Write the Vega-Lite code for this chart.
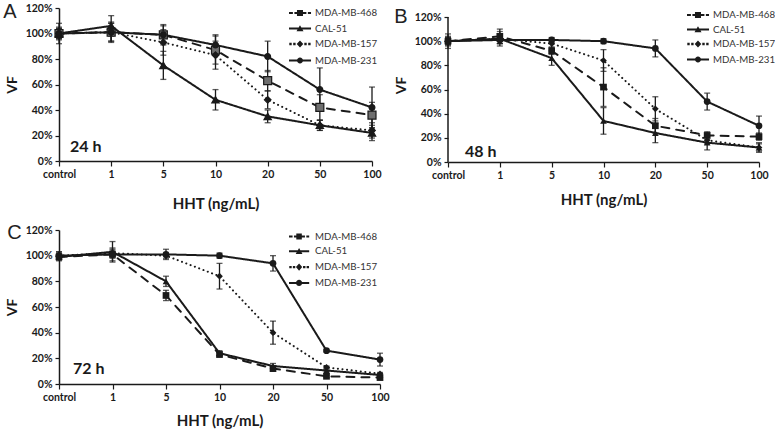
{
  "$schema": "https://vega.github.io/schema/vega-lite/v6.json",
  "background": "white",
  "padding": {"left": 3, "top": 2, "right": 0, "bottom": 0},
  "datasets": {
    "pts": [
      {"p": "A", "s": "MDA-MB-468", "d": "control", "v": 100, "e": 4},
      {"p": "A", "s": "MDA-MB-468", "d": "1", "v": 101, "e": 8},
      {"p": "A", "s": "MDA-MB-468", "d": "5", "v": 99, "e": 8},
      {"p": "A", "s": "MDA-MB-468", "d": "10", "v": 87, "e": 11},
      {"p": "A", "s": "MDA-MB-468", "d": "20", "v": 63, "e": 8},
      {"p": "A", "s": "MDA-MB-468", "d": "50", "v": 42, "e": 10},
      {"p": "A", "s": "MDA-MB-468", "d": "100", "v": 36, "e": 10},
      {"p": "A", "s": "CAL-51", "d": "control", "v": 100, "e": 4},
      {"p": "A", "s": "CAL-51", "d": "1", "v": 106, "e": 8},
      {"p": "A", "s": "CAL-51", "d": "5", "v": 75, "e": 11},
      {"p": "A", "s": "CAL-51", "d": "10", "v": 48, "e": 8},
      {"p": "A", "s": "CAL-51", "d": "20", "v": 35, "e": 5},
      {"p": "A", "s": "CAL-51", "d": "50", "v": 28, "e": 4},
      {"p": "A", "s": "CAL-51", "d": "100", "v": 22, "e": 6},
      {"p": "A", "s": "MDA-MB-157", "d": "control", "v": 100, "e": 5},
      {"p": "A", "s": "MDA-MB-157", "d": "1", "v": 101, "e": 7},
      {"p": "A", "s": "MDA-MB-157", "d": "5", "v": 93, "e": 10},
      {"p": "A", "s": "MDA-MB-157", "d": "10", "v": 83, "e": 11},
      {"p": "A", "s": "MDA-MB-157", "d": "20", "v": 48, "e": 7},
      {"p": "A", "s": "MDA-MB-157", "d": "50", "v": 28, "e": 4},
      {"p": "A", "s": "MDA-MB-157", "d": "100", "v": 24, "e": 6},
      {"p": "A", "s": "MDA-MB-231", "d": "control", "v": 100, "e": 8},
      {"p": "A", "s": "MDA-MB-231", "d": "1", "v": 101, "e": 7},
      {"p": "A", "s": "MDA-MB-231", "d": "5", "v": 99, "e": 7},
      {"p": "A", "s": "MDA-MB-231", "d": "10", "v": 91, "e": 8},
      {"p": "A", "s": "MDA-MB-231", "d": "20", "v": 82, "e": 12},
      {"p": "A", "s": "MDA-MB-231", "d": "50", "v": 56, "e": 17},
      {"p": "A", "s": "MDA-MB-231", "d": "100", "v": 42, "e": 16},
      {"p": "B", "s": "MDA-MB-468", "d": "control", "v": 100, "e": 3},
      {"p": "B", "s": "MDA-MB-468", "d": "1", "v": 104, "e": 6},
      {"p": "B", "s": "MDA-MB-468", "d": "5", "v": 92, "e": 3},
      {"p": "B", "s": "MDA-MB-468", "d": "10", "v": 62, "e": 16},
      {"p": "B", "s": "MDA-MB-468", "d": "20", "v": 30, "e": 6},
      {"p": "B", "s": "MDA-MB-468", "d": "50", "v": 22, "e": 3},
      {"p": "B", "s": "MDA-MB-468", "d": "100", "v": 21, "e": 3},
      {"p": "B", "s": "CAL-51", "d": "control", "v": 100, "e": 3},
      {"p": "B", "s": "CAL-51", "d": "1", "v": 102, "e": 6},
      {"p": "B", "s": "CAL-51", "d": "5", "v": 86, "e": 6},
      {"p": "B", "s": "CAL-51", "d": "10", "v": 34, "e": 11},
      {"p": "B", "s": "CAL-51", "d": "20", "v": 24, "e": 8},
      {"p": "B", "s": "CAL-51", "d": "50", "v": 16, "e": 6},
      {"p": "B", "s": "CAL-51", "d": "100", "v": 12, "e": 3},
      {"p": "B", "s": "MDA-MB-157", "d": "control", "v": 100, "e": 4},
      {"p": "B", "s": "MDA-MB-157", "d": "1", "v": 102, "e": 4},
      {"p": "B", "s": "MDA-MB-157", "d": "5", "v": 98, "e": 3},
      {"p": "B", "s": "MDA-MB-157", "d": "10", "v": 84, "e": 9},
      {"p": "B", "s": "MDA-MB-157", "d": "20", "v": 44, "e": 10},
      {"p": "B", "s": "MDA-MB-157", "d": "50", "v": 18, "e": 3},
      {"p": "B", "s": "MDA-MB-157", "d": "100", "v": 12, "e": 4},
      {"p": "B", "s": "MDA-MB-231", "d": "control", "v": 100, "e": 6},
      {"p": "B", "s": "MDA-MB-231", "d": "1", "v": 101, "e": 3},
      {"p": "B", "s": "MDA-MB-231", "d": "5", "v": 101, "e": 2},
      {"p": "B", "s": "MDA-MB-231", "d": "10", "v": 100, "e": 2},
      {"p": "B", "s": "MDA-MB-231", "d": "20", "v": 94, "e": 7},
      {"p": "B", "s": "MDA-MB-231", "d": "50", "v": 50, "e": 7},
      {"p": "B", "s": "MDA-MB-231", "d": "100", "v": 30, "e": 8},
      {"p": "C", "s": "MDA-MB-468", "d": "control", "v": 99, "e": 3},
      {"p": "C", "s": "MDA-MB-468", "d": "1", "v": 101, "e": 5},
      {"p": "C", "s": "MDA-MB-468", "d": "5", "v": 69, "e": 4},
      {"p": "C", "s": "MDA-MB-468", "d": "10", "v": 23, "e": 2},
      {"p": "C", "s": "MDA-MB-468", "d": "20", "v": 12, "e": 2},
      {"p": "C", "s": "MDA-MB-468", "d": "50", "v": 6, "e": 1},
      {"p": "C", "s": "MDA-MB-468", "d": "100", "v": 5, "e": 1},
      {"p": "C", "s": "CAL-51", "d": "control", "v": 99, "e": 2},
      {"p": "C", "s": "CAL-51", "d": "1", "v": 103, "e": 8},
      {"p": "C", "s": "CAL-51", "d": "5", "v": 80, "e": 4},
      {"p": "C", "s": "CAL-51", "d": "10", "v": 24, "e": 2},
      {"p": "C", "s": "CAL-51", "d": "20", "v": 14, "e": 2},
      {"p": "C", "s": "CAL-51", "d": "50", "v": 10.5, "e": 1},
      {"p": "C", "s": "CAL-51", "d": "100", "v": 7, "e": 1},
      {"p": "C", "s": "MDA-MB-157", "d": "control", "v": 100, "e": 3},
      {"p": "C", "s": "MDA-MB-157", "d": "1", "v": 102, "e": 3},
      {"p": "C", "s": "MDA-MB-157", "d": "5", "v": 100, "e": 2},
      {"p": "C", "s": "MDA-MB-157", "d": "10", "v": 84, "e": 10},
      {"p": "C", "s": "MDA-MB-157", "d": "20", "v": 40, "e": 9},
      {"p": "C", "s": "MDA-MB-157", "d": "50", "v": 13, "e": 1},
      {"p": "C", "s": "MDA-MB-157", "d": "100", "v": 8, "e": 1},
      {"p": "C", "s": "MDA-MB-231", "d": "control", "v": 100, "e": 3},
      {"p": "C", "s": "MDA-MB-231", "d": "1", "v": 101, "e": 3},
      {"p": "C", "s": "MDA-MB-231", "d": "5", "v": 101, "e": 4},
      {"p": "C", "s": "MDA-MB-231", "d": "10", "v": 100, "e": 2},
      {"p": "C", "s": "MDA-MB-231", "d": "20", "v": 94, "e": 6},
      {"p": "C", "s": "MDA-MB-231", "d": "50", "v": 26, "e": 1},
      {"p": "C", "s": "MDA-MB-231", "d": "100", "v": 19, "e": 5}
    ],
    "labels": [
      {"p": "A", "label": "24 h"},
      {"p": "B", "label": "48 h"},
      {"p": "C", "label": "72 h"}
    ]
  },
  "data": {"name": "pts"},
  "vconcat": [
    {
      "hconcat": [
        {
          "width": 313,
          "height": 153,
          "title": {"text": "A", "offset": -19, "dx": -2},
          "layer": [
            {
              "transform": [{"filter": "datum.p === 'A'"}],
              "encoding": {
                "x": {"field": "d", "type": "ordinal", "scale": {"type": "point", "domain": ["control", "1", "5", "10", "20", "50", "100"], "padding": 0}, "axis": {"title": "HHT (ng/mL)", "titlePadding": 16.5}},
                "y": {"field": "v", "type": "quantitative", "scale": {"domain": [0, 120], "nice": false}, "axis": {"title": "VF", "values": [0, 20, 40, 60, 80, 100, 120], "tickCount": 7, "labelOverlap": false, "labelSeparation": 0, "labelExpr": "datum.value + '%'"}}
              },
              "layer": [
                {"mark": {"type": "errorbar", "color": "#1a1a1a", "thickness": 1.3, "ticks": {"size": 6, "thickness": 1.3}}, "encoding": {"yError": {"field": "e"}}},
                {"mark": {"type": "line", "color": "#1a1a1a", "strokeWidth": 2, "strokeCap": "round"}, "encoding": {"strokeDash": {"field": "s", "type": "nominal", "scale": {"domain": ["MDA-MB-468", "CAL-51", "MDA-MB-157", "MDA-MB-231"], "range": [[8, 7], [1, 0], [0.1, 4.5], [1, 0]]}, "legend": null}}},
                {"mark": {"type": "point", "filled": true, "opacity": 1, "stroke": "#1a1a1a", "strokeWidth": 1.2},
                  "encoding": {
                    "shape": {"field": "s", "type": "nominal", "scale": {"domain": ["MDA-MB-468", "CAL-51", "MDA-MB-157", "MDA-MB-231"], "range": ["square", "triangle-up", "diamond", "circle"]}, "legend": null},
                    "fill": {"field": "s", "type": "nominal", "scale": {"domain": ["MDA-MB-468", "CAL-51", "MDA-MB-157", "MDA-MB-231"], "range": ["#6e6e6e", "#1a1a1a", "#1a1a1a", "#1a1a1a"]}, "legend": null},
                    "size": {"field": "s", "type": "nominal", "scale": {"domain": ["MDA-MB-468", "CAL-51", "MDA-MB-157", "MDA-MB-231"], "range": [64, 34, 34, 34]}, "legend": null}
                  }}
              ]
            },
            {
              "transform": [{"filter": "false"}],
              "mark": {"type": "point", "filled": true, "color": "#1a1a1a", "opacity": 1},
              "encoding": {"shape": {"field": "s", "type": "nominal", "scale": {"domain": ["MDA-MB-468", "CAL-51", "MDA-MB-157", "MDA-MB-231"], "range": ["M-1,-0.17H-0.35V0.17H-1ZM-0.1,-0.17H0.33V0.17H-0.1ZM1.33,-0.17H1.9V0.17H1.33ZM2.15,-0.17H2.67V0.17H2.15ZM0.33,-0.5H1.33V0.5H0.33Z", "M-1,-0.17H2.67V0.17H-1ZM0.833,-0.55L1.42,0.45H0.25Z", "M-0.95,-0.2h0.4v0.4h-0.4ZM-0.3,-0.2h0.4v0.4h-0.4ZM1.55,-0.2h0.4v0.4h-0.4ZM2.2,-0.2h0.4v0.4h-0.4ZM0.833,-0.6L1.38,0L0.833,0.6L0.283,0Z", "M-1,-0.17H2.67V0.17H-1ZM0.333,0A0.5,0.5 0 1,1 1.333,0A0.5,0.5 0 1,1 0.333,0Z"]}, "legend": {"orient": "none", "legendX": 229, "legendY": -2, "title": null, "symbolSize": 144, "labelOffset": 13, "rowPadding": 2.5}}}
            },
            {
              "data": {"name": "labels"},
              "transform": [{"filter": "datum.p === 'A'"}],
              "mark": {"type": "text", "align": "left", "baseline": "alphabetic", "dx": 11, "font": "Lato", "fontSize": 16, "fontWeight": "bold", "color": "#1a1a1a"},
              "encoding": {"x": {"datum": "control", "type": "ordinal"}, "y": {"datum": 7, "type": "quantitative"}, "text": {"field": "label"}}
            }
          ],
          "resolve": {"scale": {"shape": "independent"}}
        },
        {
          "width": 311,
          "height": 154,
          "title": {"text": "B", "offset": -19, "dx": 0},
          "layer": [
            {
              "transform": [{"filter": "datum.p === 'B'"}],
              "encoding": {
                "x": {"field": "d", "type": "ordinal", "scale": {"type": "point", "domain": ["control", "1", "5", "10", "20", "50", "100"], "padding": 0}, "axis": {"title": "HHT (ng/mL)", "titlePadding": 12}},
                "y": {"field": "v", "type": "quantitative", "scale": {"domain": [0, 127.45], "nice": false}, "axis": {"title": "VF", "domain": false, "values": [0, 20, 40, 60, 80, 100, 120], "tickCount": 7, "labelOverlap": false, "labelSeparation": 0, "labelExpr": "datum.value + '%'"}}
              },
              "layer": [
                {"mark": {"type": "errorbar", "color": "#1a1a1a", "thickness": 1.3, "ticks": {"size": 6, "thickness": 1.3}}, "encoding": {"yError": {"field": "e"}}},
                {"mark": {"type": "line", "color": "#1a1a1a", "strokeWidth": 2, "strokeCap": "round"}, "encoding": {"strokeDash": {"field": "s", "type": "nominal", "scale": {"domain": ["MDA-MB-468", "CAL-51", "MDA-MB-157", "MDA-MB-231"], "range": [[8, 7], [1, 0], [0.1, 4.5], [1, 0]]}, "legend": null}}},
                {"mark": {"type": "point", "filled": true, "color": "#1a1a1a", "opacity": 1, "size": 45}, "encoding": {"shape": {"field": "s", "type": "nominal", "scale": {"domain": ["MDA-MB-468", "CAL-51", "MDA-MB-157", "MDA-MB-231"], "range": ["square", "triangle-up", "diamond", "circle"]}, "legend": null}}}
              ]
            },
            {
              "transform": [{"filter": "false"}],
              "mark": {"type": "point", "filled": true, "color": "#1a1a1a", "opacity": 1},
              "encoding": {"shape": {"field": "s", "type": "nominal", "scale": {"domain": ["MDA-MB-468", "CAL-51", "MDA-MB-157", "MDA-MB-231"], "range": ["M-1,-0.17H-0.35V0.17H-1ZM-0.1,-0.17H0.33V0.17H-0.1ZM1.33,-0.17H1.9V0.17H1.33ZM2.15,-0.17H2.67V0.17H2.15ZM0.33,-0.5H1.33V0.5H0.33Z", "M-1,-0.17H2.67V0.17H-1ZM0.833,-0.55L1.42,0.45H0.25Z", "M-0.95,-0.2h0.4v0.4h-0.4ZM-0.3,-0.2h0.4v0.4h-0.4ZM1.55,-0.2h0.4v0.4h-0.4ZM2.2,-0.2h0.4v0.4h-0.4ZM0.833,-0.6L1.38,0L0.833,0.6L0.283,0Z", "M-1,-0.17H2.67V0.17H-1ZM0.333,0A0.5,0.5 0 1,1 1.333,0A0.5,0.5 0 1,1 0.333,0Z"]}, "legend": {"orient": "none", "legendX": 238, "legendY": 0, "title": null, "symbolSize": 144, "labelOffset": 13, "rowPadding": 1.5}}}
            },
            {
              "data": {"name": "labels"},
              "transform": [{"filter": "datum.p === 'B'"}],
              "layer": [
                {
                  "mark": {"type": "rule", "color": "#1a1a1a", "strokeWidth": 1.5},
                  "encoding": {"x": {"datum": "control", "type": "ordinal"}, "y": {"datum": 0, "type": "quantitative"}, "y2": {"datum": 120}}
                },
                {
                  "mark": {"type": "text", "align": "left", "baseline": "alphabetic", "dx": 17, "font": "Lato", "fontSize": 16, "fontWeight": "bold", "color": "#1a1a1a"},
                  "encoding": {"x": {"datum": "control", "type": "ordinal"}, "y": {"datum": 4, "type": "quantitative"}, "text": {"field": "label"}}
                }
              ]
            }
          ],
          "resolve": {"scale": {"shape": "independent"}}
        }
      ]
    },
    {
      "width": 321,
      "height": 154,
      "title": {"text": "C", "offset": -18, "dx": 2},
      "layer": [
        {
          "transform": [{"filter": "datum.p === 'C'"}],
          "encoding": {
            "x": {"field": "d", "type": "ordinal", "scale": {"type": "point", "domain": ["control", "1", "5", "10", "20", "50", "100"], "padding": 0}, "axis": {"title": "HHT (ng/mL)", "titlePadding": 11}},
            "y": {"field": "v", "type": "quantitative", "scale": {"domain": [0, 120], "nice": false}, "axis": {"title": "VF", "values": [0, 20, 40, 60, 80, 100, 120], "tickCount": 7, "labelOverlap": false, "labelSeparation": 0, "labelExpr": "datum.value + '%'"}}
          },
          "layer": [
            {"mark": {"type": "errorbar", "color": "#1a1a1a", "thickness": 1.3, "ticks": {"size": 6, "thickness": 1.3}}, "encoding": {"yError": {"field": "e"}}},
            {"mark": {"type": "line", "color": "#1a1a1a", "strokeWidth": 2, "strokeCap": "round"}, "encoding": {"strokeDash": {"field": "s", "type": "nominal", "scale": {"domain": ["MDA-MB-468", "CAL-51", "MDA-MB-157", "MDA-MB-231"], "range": [[8, 7], [1, 0], [0.1, 4.5], [1, 0]]}, "legend": null}}},
            {"mark": {"type": "point", "filled": true, "color": "#1a1a1a", "opacity": 1, "size": 45}, "encoding": {"shape": {"field": "s", "type": "nominal", "scale": {"domain": ["MDA-MB-468", "CAL-51", "MDA-MB-157", "MDA-MB-231"], "range": ["square", "triangle-up", "diamond", "circle"]}, "legend": null}}}
          ]
        },
        {
          "transform": [{"filter": "false"}],
          "mark": {"type": "point", "filled": true, "color": "#1a1a1a", "opacity": 1},
          "encoding": {"shape": {"field": "s", "type": "nominal", "scale": {"domain": ["MDA-MB-468", "CAL-51", "MDA-MB-157", "MDA-MB-231"], "range": ["M-1,-0.18H-0.35V0.18H-1ZM-0.1,-0.18H0.33V0.18H-0.1ZM1.33,-0.18H1.9V0.18H1.33ZM2.15,-0.18H2.67V0.18H2.15ZM0.33,-0.55H1.33V0.55H0.33Z", "M-1,-0.18H2.67V0.18H-1ZM0.833,-0.6L1.45,0.5H0.22Z", "M-0.95,-0.22h0.44v0.44h-0.44ZM-0.3,-0.22h0.44v0.44h-0.44ZM1.55,-0.22h0.44v0.44h-0.44ZM2.2,-0.22h0.44v0.44h-0.44ZM0.833,-0.65L1.4,0L0.833,0.65L0.263,0Z", "M-1,-0.18H2.67V0.18H-1ZM0.283,0A0.55,0.55 0 1,1 1.383,0A0.55,0.55 0 1,1 0.283,0Z"]}, "legend": {"orient": "none", "legendX": 229, "legendY": 0, "title": null, "symbolSize": 121, "labelOffset": 14, "rowPadding": 1.8}}}
        },
        {
          "data": {"name": "labels"},
          "transform": [{"filter": "datum.p === 'C'"}],
          "mark": {"type": "text", "align": "left", "baseline": "alphabetic", "dx": 14, "font": "Lato", "fontSize": 16, "fontWeight": "bold", "color": "#1a1a1a"},
          "encoding": {"x": {"datum": "control", "type": "ordinal"}, "y": {"datum": 8, "type": "quantitative"}, "text": {"field": "label"}}
        }
      ],
      "resolve": {"scale": {"shape": "independent"}}
    }
  ],
  "spacing": 12,
  "config": {
    "view": {"stroke": null},
    "font": "Lato",
    "concat": {"spacing": 12},
    "axis": {"grid": false, "labelOverlap": false, "domainColor": "#1a1a1a", "domainWidth": 1.5, "tickColor": "#1a1a1a", "tickWidth": 1.2, "tickSize": 4, "labelFont": "Lato", "labelFontWeight": "bold", "labelFontSize": 10.5, "labelColor": "#1a1a1a", "labelPadding": 3, "titleFont": "Lato", "titleFontWeight": "bold", "titleColor": "#1a1a1a"},
    "axisX": {"labelAngle": 0, "tickSize": 5, "titleFontSize": 15},
    "axisY": {"titleFontSize": 14, "titlePadding": 6, "labelOverlap": false},
    "axisQuantitative": {"labelOverlap": false},
    "legend": {"labelFont": "Lato", "labelFontSize": 9.7, "labelColor": "#333333", "padding": 0},
    "title": {"font": "Liberation Sans", "fontSize": 20, "fontWeight": "normal", "color": "#222222", "anchor": "start", "frame": "bounds"}
  }
}
